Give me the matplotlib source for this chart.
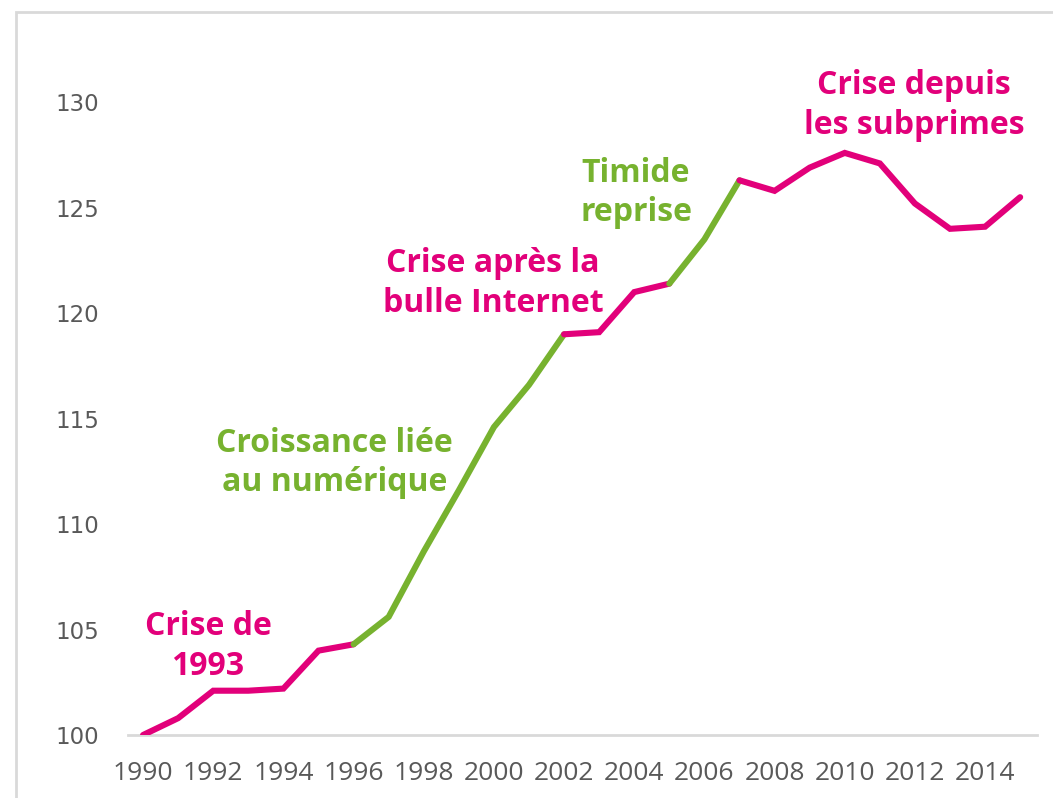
import matplotlib
matplotlib.use('Agg')
import matplotlib.pyplot as plt
from matplotlib.patches import Rectangle

# Index values (1990 = 100)
years = list(range(1990, 2016))
values = [100.0, 100.8, 102.1, 102.1, 102.2, 104.0, 104.3, 105.6, 108.7, 111.6,
          114.6, 116.6, 119.0, 119.1, 121.0, 121.4, 123.5, 126.3, 125.8, 126.9,
          127.6, 127.1, 125.2, 124.0, 124.1, 125.5]

# periods: (start year, end year, kind)
periods = [(1990, 1996, 'crise'), (1996, 2002, 'croissance'), (2002, 2005, 'crise'),
           (2005, 2007, 'croissance'), (2007, 2015, 'crise')]

labels = ["Crise de\n1993", "Croissance liée\nau numérique", "Crise après la\nbulle Internet",
          "Timide\nreprise", "Crise depuis\nles subprimes"]
label_pos = [(1991.85, 104.2), (1995.45, 112.9), (1999.98, 121.4), (2004.05, 125.7), (2011.98, 129.86)]
label_kind = ['crise', 'croissance', 'crise', 'croissance', 'crise']

colors = {'crise': '#E2007A', 'croissance': '#77B22F'}

fig = plt.figure(figsize=(10.53, 7.98), dpi=100)
ax = fig.add_axes([128 / 1053, 63 / 798, (1037 - 128) / 1053, (735 - 39) / 798])

for start, end, kind in periods:
    i0 = years.index(start)
    i1 = years.index(end)
    ax.plot(years[i0:i1 + 1], values[i0:i1 + 1], color=colors[kind], lw=4.4,
            solid_capstyle='round', solid_joinstyle='miter', zorder=3)

for txt, (x, y), kind in zip(labels, label_pos, label_kind):
    ax.text(x, y, txt, color=colors[kind], fontsize=23, fontweight='bold',
            family='Open Sans', ha='center', va='center', linespacing=1.27)

ax.set_xlim(1989.57, 2015.48)
ax.set_ylim(100, 133)
ax.set_xticks(range(1990, 2015, 2))
ax.set_yticks(range(100, 131, 5))
for lab in ax.get_xticklabels():
    lab.set_family('Open Sans')
    lab.set_fontsize(19)
    lab.set_color('#595959')
for lab in ax.get_yticklabels():
    lab.set_family('DejaVu Sans')
    lab.set_fontsize(16.5)
    lab.set_color('#595959')
ax.tick_params(axis='both', length=0)
ax.tick_params(axis='x', pad=19)
ax.tick_params(axis='y', pad=21)

for s in ['top', 'right', 'left']:
    ax.spines[s].set_visible(False)
ax.spines['bottom'].set_color('#D9D9D9')
ax.spines['bottom'].set_linewidth(2)
ax.spines['bottom'].set_zorder(1)

# chart area frame
fig.patches.append(Rectangle((16 / 1053, -0.1), 1.2, 1.1 - 12 / 798, transform=fig.transFigure,
                             fill=False, edgecolor='#D9D9D9', lw=2))

fig.savefig('out.png', dpi=100)
